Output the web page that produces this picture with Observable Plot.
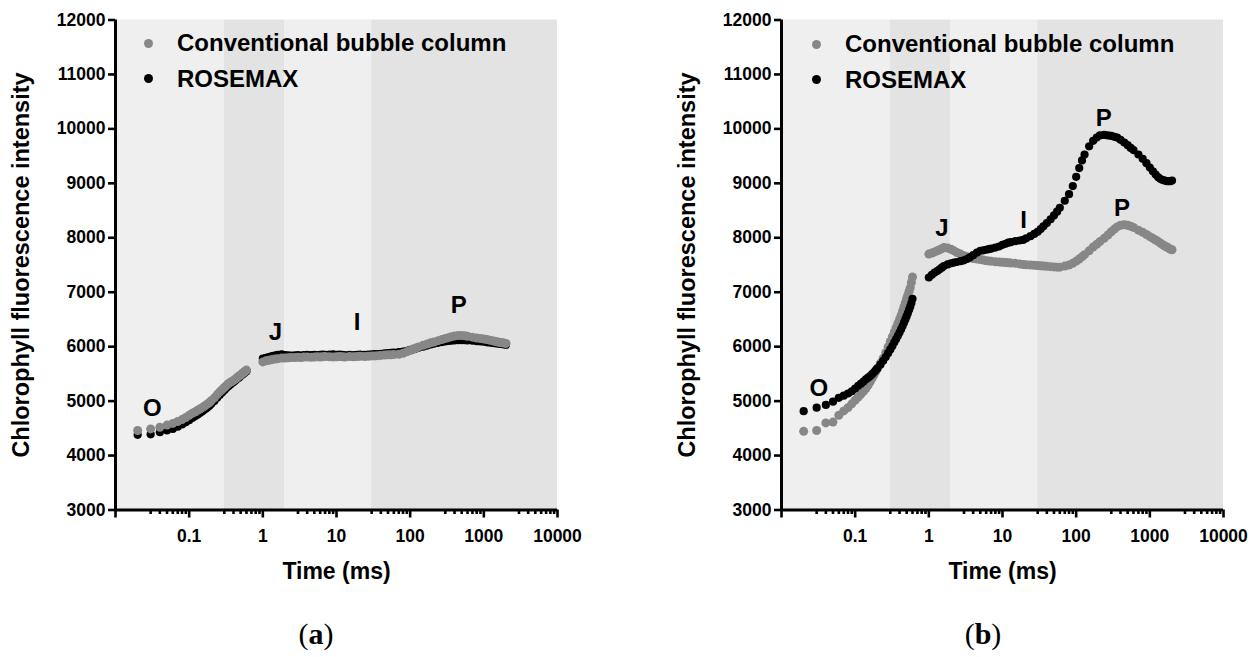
<!DOCTYPE html>
<html>
<head>
<meta charset="utf-8">
<script src="https://cdn.jsdelivr.net/npm/d3@7"></script>
<script src="https://cdn.jsdelivr.net/npm/@observablehq/plot@0.6"></script>
<style>
  body { margin: 0; background: #fff; font-family: "Liberation Sans", Arial, sans-serif; }
  #root { position: relative; width: 1258px; height: 657px; overflow: hidden; background: #fff; }
  .panel { position: absolute; top: 0; width: 629px; height: 600px; }
  .lg-dot { position: absolute; width: 9px; height: 9px; border-radius: 50%; }
  .lg-text { position: absolute; font-weight: bold; font-size: 24px; line-height: 28px; white-space: nowrap; color: #000; }
  .caption { position: absolute; top: 614px; width: 120px; text-align: center; font-family: "Liberation Serif", "Times New Roman", serif; font-size: 30px; line-height: 40px; color: #000; }
</style>
</head>
<body>
<div id="root">
  <div class="panel" id="pa" style="left:0px"></div>
  <div class="panel" id="pb" style="left:629px"></div>
  <div class="caption" style="left:256px">(<b>a</b>)</div>
  <div class="caption" style="left:923px">(<b>b</b>)</div>
</div>
<script>
// ---- data (time in ms, fluorescence intensity) ----
const times = [0.02,0.03,0.04,0.05,0.06,0.07,0.08,0.09,0.10,0.11,0.12,0.13,0.14,0.15,0.16,0.17,0.18,0.19,0.20,0.22,0.24,0.26,0.28,0.30,0.32,0.34,0.36,0.38,0.40,0.42,0.44,0.46,0.48,0.50,0.52,0.54,0.56,0.58,0.60,
  1.0,1.1,1.2,1.3,1.4,1.5,1.6,1.8,
  2.0,2.2,2.4,2.7,3.0,3.3,3.6,4.0,4.5,
  5,5.5,6,6.5,7,8,9,
  10,11,12,13,15,17,19,21,24,27,
  30,33,36,40,45,50,55,60,70,80,90,
  100,110,120,130,150,170,190,210,240,270,
  300,330,360,400,450,500,550,600,700,800,900,
  1000,1100,1200,1300,1400,1500,1600,1700,1800,1900,2000];

const aConventional = [4460,4490,4520,4560,4590,4625,4660,4700,4740,4775,4800,4830,4855,4880,4905,4930,4955,4980,5010,5060,5120,5170,5210,5250,5285,5320,5340,5360,5380,5400,5425,5445,5465,5480,5500,5520,5535,5555,5570,
  5720,5740,5750,5760,5770,5775,5780,5790,
  5790,5795,5800,5800,5805,5800,5810,5810,5805,
  5810,5815,5810,5815,5820,5815,5810,
  5815,5820,5815,5810,5820,5815,5820,5825,5820,5825,
  5830,5830,5835,5840,5845,5850,5850,5855,5860,5880,5905,
  5930,5955,5975,5995,6025,6050,6070,6085,6110,6130,
  6150,6165,6180,6195,6205,6205,6200,6190,6175,6160,6150,
  6140,6130,6120,6110,6100,6090,6080,6075,6070,6065,6060];

const aRosemax = [4380,4390,4430,4460,4490,4530,4570,4610,4650,4690,4720,4750,4780,4810,4840,4865,4890,4920,4950,5000,5060,5110,5160,5200,5240,5275,5300,5330,5350,5375,5400,5420,5440,5460,5480,5500,5515,5535,5550,
  5780,5795,5810,5820,5830,5840,5850,5860,
  5845,5840,5835,5840,5845,5835,5845,5850,5845,
  5850,5845,5850,5855,5850,5855,5860,
  5850,5855,5850,5845,5850,5845,5850,5855,5850,5855,
  5860,5865,5865,5870,5875,5880,5885,5890,5900,5910,5925,
  5940,5950,5965,5980,6000,6020,6040,6055,6070,6085,
  6095,6105,6110,6115,6120,6120,6120,6115,6110,6100,6095,
  6090,6080,6075,6070,6065,6060,6055,6050,6045,6040,6035];

const bConventional = [4445,4460,4600,4615,4740,4820,4880,4950,5015,5075,5130,5180,5230,5290,5355,5420,5480,5540,5595,5695,5785,5890,5995,6095,6185,6270,6350,6425,6500,6575,6655,6735,6810,6885,6950,7020,7085,7180,7280,
  7700,7720,7740,7760,7780,7800,7820,7810,
  7790,7760,7730,7700,7670,7650,7640,7620,7610,
  7600,7590,7580,7575,7570,7560,7555,
  7550,7545,7540,7535,7530,7520,7510,7505,7500,7495,
  7490,7485,7480,7475,7470,7465,7460,7460,7480,7500,7530,
  7570,7610,7650,7690,7760,7830,7880,7930,7990,8050,
  8110,8160,8200,8230,8240,8230,8210,8190,8140,8100,8060,
  8020,7990,7960,7930,7900,7870,7850,7830,7810,7790,7780];

const bRosemax = [4815,4880,4930,4990,5060,5100,5140,5180,5230,5280,5320,5360,5400,5430,5460,5495,5530,5565,5600,5670,5740,5810,5880,5950,6010,6080,6140,6200,6260,6320,6380,6440,6500,6560,6620,6680,6740,6800,6880,
  7270,7320,7360,7390,7420,7450,7480,7510,
  7530,7545,7555,7570,7585,7610,7640,7680,7730,
  7760,7770,7780,7790,7800,7820,7840,
  7870,7890,7910,7920,7940,7950,7960,7990,8030,8070,
  8110,8160,8210,8270,8340,8410,8480,8550,8680,8800,8950,
  9120,9280,9420,9530,9680,9780,9840,9880,9890,9880,
  9870,9855,9840,9800,9750,9700,9650,9610,9530,9450,9370,
  9290,9220,9160,9110,9080,9060,9050,9040,9040,9040,9050];

const seriesNames = ["Conventional bubble column", "ROSEMAX"];
const yTicks = [3000,4000,5000,6000,7000,8000,9000,10000,11000,12000];
const xMajorTicks = [0.01,0.1,1,10,100,1000,10000];
const xMajorLabels = ["","0.1","1","10","100","1000","10000"];
const minorMultiples = [3,4,5,6,7,8,9];
const bandStart = [0.01,0.3,2,30];
const bandEnd = [0.3,2,30,10000];

const aLabelText = ["O","J","I","P"];
const aLabelTime = [0.0315,1.48,19.0,455];
const aLabelValue = [4860,6266,6450,6757];
const bLabelText = ["O","J","I","P","P"];
const bLabelTime = [0.0321,1.51,19.4,236,420];
const bLabelValue = [5226,8166,8318,10186,8533];

const yTitle = "Chlorophyll fluorescence intensity";
const xTitle = "Time (ms)";

// ---- drawing ----
const GREY = "#878787", BLACK = "#000000";
const LIGHT = "#efefef", DARK = "#e3e3e3";
const FONT = "'Liberation Sans', Arial, sans-serif";

function panel(conv, rose, lText, lTime, lValue, blackOnTop, marginLeft, marginRight) {
  const convData = times.map((t, i) => ({t, v: conv[i]}));
  const roseData = times.map((t, i) => ({t, v: rose[i]}));
  const bands = bandStart.map((s, i) => ({x1: s, x2: bandEnd[i], i}));
  const labelMap = new Map(xMajorTicks.map((d, i) => [d, xMajorLabels[i]]));
  const minor = [];
  for (let k = 0; k < xMajorTicks.length - 1; k++) for (const m of minorMultiples) minor.push(xMajorTicks[k] * m);
  const labels = lText.map((s, i) => ({s, t: lTime[i], v: lValue[i]}));
  const greyDots = Plot.dot(convData, {x: "t", y: "v", r: 4.5, fill: GREY});
  const blackDots = Plot.dot(roseData, {x: "t", y: "v", r: 4.1, fill: BLACK});
  return Plot.plot({
    width: 629, height: 600,
    marginLeft, marginRight, marginTop: 19.5, marginBottom: 90.5,
    style: {fontFamily: FONT, background: "transparent", overflow: "visible"},
    x: {type: "log", domain: [0.01, 10000], axis: null},
    y: {domain: [3000, 12000], axis: null},
    marks: [
      Plot.rect(bands, {x1: "x1", x2: "x2", y1: 3000, y2: 12000, fill: d => d.i % 2 ? DARK : LIGHT}),
      ...(blackOnTop ? [greyDots, blackDots] : [blackDots, greyDots]),
      Plot.text(labels, {x: "t", y: "v", text: "s", fontSize: 24, fontWeight: "bold", fill: BLACK}),
      Plot.axisY(yTicks, {tickSize: 7, tickPadding: 3, tickFormat: "d", fontSize: 17.5, fontWeight: "bold", strokeWidth: 2.6, fill: BLACK, stroke: BLACK, label: null}),
      Plot.axisX(minor, {tickSize: 4.5, tickFormat: () => "", strokeWidth: 2.6, stroke: BLACK, label: null}),
      Plot.axisX(xMajorTicks, {tickSize: 8, tickPadding: 12, tickFormat: d => labelMap.get(d), fontSize: 17.5, fontWeight: "bold", strokeWidth: 2.6, fill: BLACK, stroke: BLACK, label: null}),
      Plot.ruleX([0.01], {stroke: BLACK, strokeWidth: 3}),
      Plot.ruleY([3000], {stroke: BLACK, strokeWidth: 3}),
      Plot.text([yTitle], {frameAnchor: "left", textAnchor: "middle", rotate: -90, dx: -94, fontSize: 23.5, fontWeight: "bold", fill: BLACK}),
      Plot.text([xTitle], {frameAnchor: "bottom", dy: 69, fontSize: 23, fontWeight: "bold", fill: BLACK})
    ]
  });
}

function legend(container, left, top) {
  const colors = [GREY, BLACK];
  seriesNames.forEach((name, i) => {
    const cy = top + i * 35.5;
    const dot = document.createElement("div");
    dot.className = "lg-dot";
    dot.style.left = (left - 4.5) + "px";
    dot.style.top = (cy - 4.5) + "px";
    dot.style.background = colors[i];
    container.appendChild(dot);
    const tx = document.createElement("div");
    tx.className = "lg-text";
    tx.textContent = name;
    tx.style.left = (left + 29) + "px";
    tx.style.top = (cy - 14) + "px";
    container.appendChild(tx);
  });
}

const pa = document.getElementById("pa");
const pb = document.getElementById("pb");
pa.appendChild(panel(aConventional, aRosemax, aLabelText, aLabelTime, aLabelValue, false, 115, 72));
pb.appendChild(panel(bConventional, bRosemax, bLabelText, bLabelTime, bLabelValue, true, 152, 35));
legend(pa, 148, 43);
legend(pb, 187, 44);
</script>
</body>
</html>
